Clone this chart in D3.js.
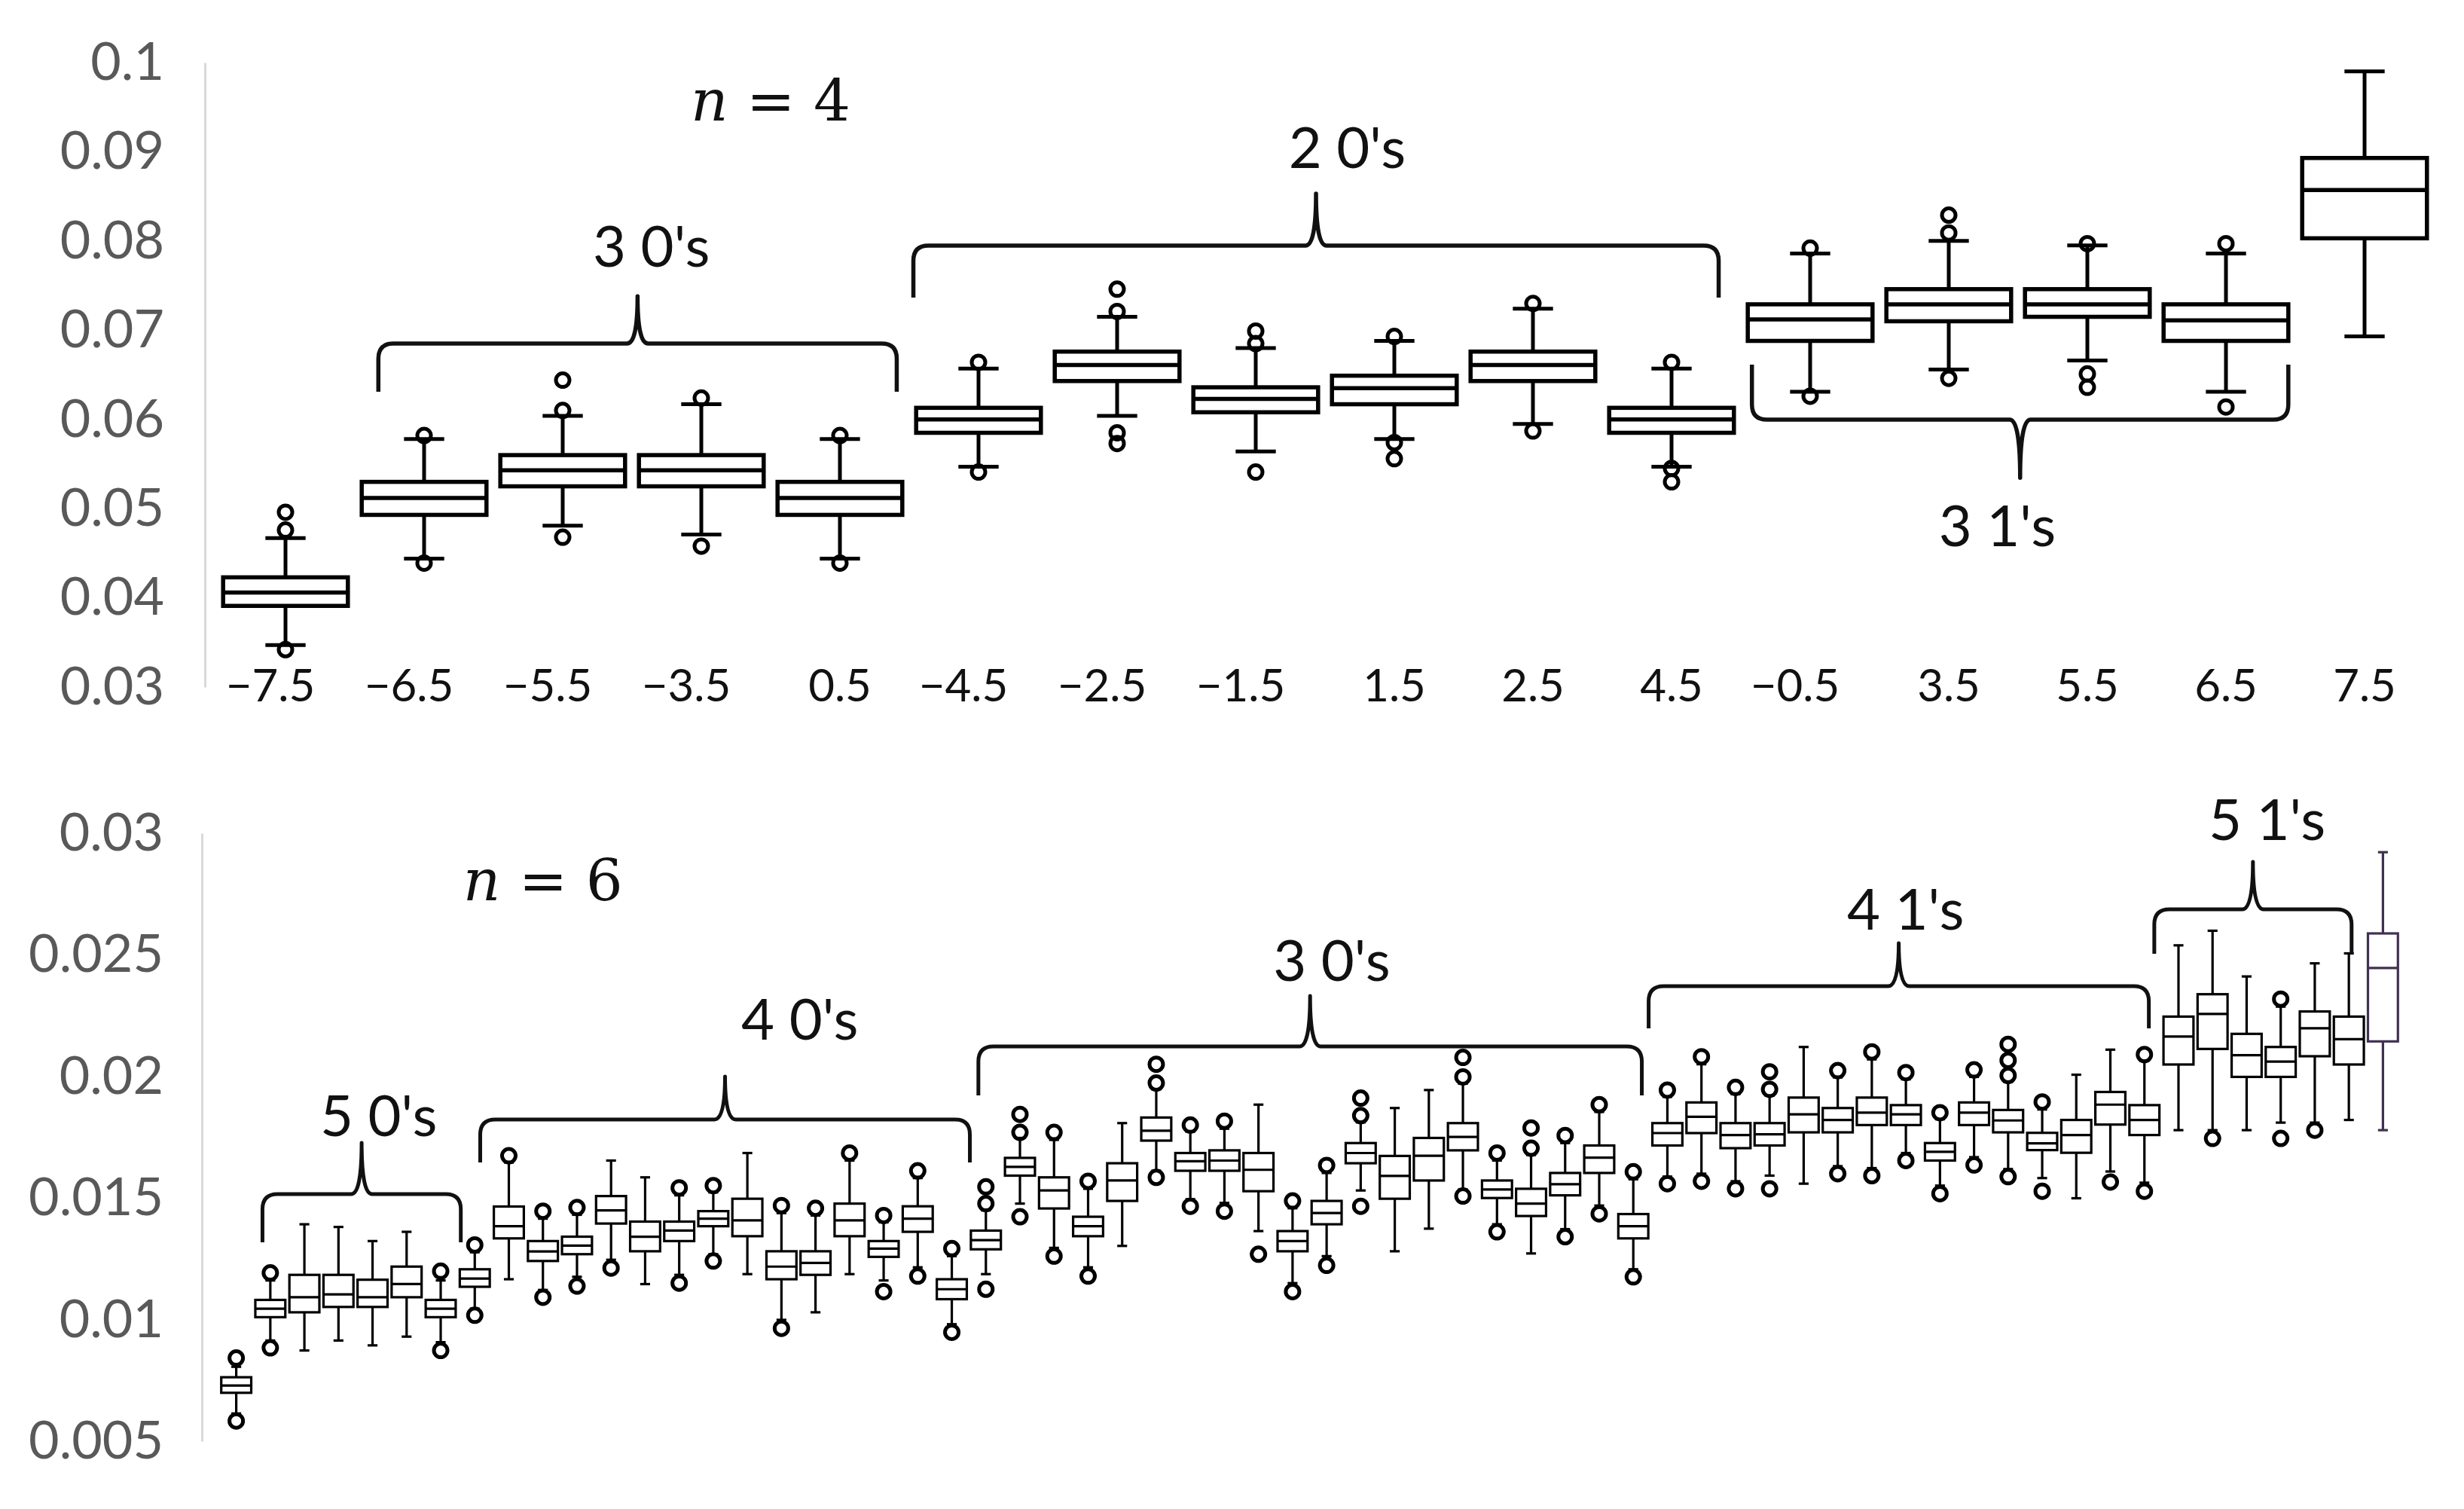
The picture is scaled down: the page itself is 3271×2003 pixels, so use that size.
<!DOCTYPE html>
<html>
<head>
<meta charset="utf-8">
<script src="https://cdn.jsdelivr.net/npm/d3@7"></script>
<style>
  body { margin: 0; background: #fff; }
  svg { display: block; }
</style>
</head>
<body>
<svg id="chart" width="3271" height="2003"></svg>
<script>
/* -------------------- n = 4 (16 boxes) -------------------- */
const n4Labels = ["−7.5", "−6.5", "−5.5", "−3.5", "0.5", "−4.5", "−2.5", "−1.5",
                  "1.5", "2.5", "4.5", "−0.5", "3.5", "5.5", "6.5", "7.5"]
const n4Low    = [0.0347, 0.0444, 0.0481, 0.0471, 0.0444, 0.0547, 0.0604, 0.0564,
                  0.0578, 0.0595, 0.0547, 0.0631, 0.0656, 0.0666, 0.0631, 0.0693]
const n4Q1     = [0.0391, 0.0493, 0.0525, 0.0525, 0.0493, 0.0585, 0.0643, 0.0608,
                  0.0617, 0.0643, 0.0585, 0.0688, 0.0710, 0.0715, 0.0688, 0.0803]
const n4Median = [0.0406, 0.0512, 0.0543, 0.0543, 0.0512, 0.0600, 0.0661, 0.0623,
                  0.0635, 0.0661, 0.0600, 0.0712, 0.0729, 0.0729, 0.0711, 0.0857]
const n4Q3     = [0.0423, 0.0530, 0.0560, 0.0560, 0.0530, 0.0613, 0.0676, 0.0636,
                  0.0649, 0.0676, 0.0613, 0.0729, 0.0746, 0.0746, 0.0729, 0.0893]
const n4High   = [0.0467, 0.0578, 0.0604, 0.0617, 0.0578, 0.0657, 0.0715, 0.0680,
                  0.0688, 0.0724, 0.0657, 0.0786, 0.0800, 0.0795, 0.0786, 0.0990]
const n4Outliers = [[0.0496, 0.0476, 0.0342], [0.0582, 0.0439], [0.0610, 0.0644, 0.0468], [0.0624, 0.0458],
                    [0.0582, 0.0439], [0.0664, 0.0541], [0.0721, 0.0746, 0.0585, 0.0573], [0.0685, 0.0699, 0.0541],
                    [0.0693, 0.0574, 0.0556], [0.0730, 0.0587], [0.0664, 0.0545, 0.0530], [0.0792, 0.0626],
                    [0.0809, 0.0829, 0.0646], [0.0797, 0.0651, 0.0636], [0.0797, 0.0614], []]
const n4Ticks = [0.03, 0.04, 0.05, 0.06, 0.07, 0.08, 0.09, 0.1]

/* -------------------- n = 6 (64 boxes) -------------------- */
const n6Low = [0.00614, 0.00914, 0.00873, 0.00914, 0.00894, 0.00930, 0.00907, 0.01045,
               0.01166, 0.01122, 0.01176, 0.01246, 0.01146, 0.01184, 0.01269, 0.01187,
               0.00999, 0.01030, 0.01187, 0.01161, 0.01215, 0.00981, 0.01187, 0.01477,
               0.01295, 0.01215, 0.01303, 0.01612, 0.01495, 0.01480, 0.01364, 0.01150,
               0.01261, 0.01531, 0.01281, 0.01374, 0.01535, 0.01392, 0.01272, 0.01372,
               0.01469, 0.01207, 0.01588, 0.01600, 0.01569, 0.01592, 0.01559, 0.01631,
               0.01623, 0.01685, 0.01551, 0.01668, 0.01619, 0.01582, 0.01499, 0.01609,
               0.01563, 0.01779, 0.01779, 0.01779, 0.01810, 0.01810, 0.01821, 0.01779]
const n6Q1 = [0.00699, 0.01010, 0.01030, 0.01052, 0.01052, 0.01092, 0.01010, 0.01135,
              0.01334, 0.01241, 0.01269, 0.01395, 0.01281, 0.01323, 0.01384, 0.01343,
              0.01166, 0.01184, 0.01343, 0.01258, 0.01361, 0.01084, 0.01289, 0.01592,
              0.01457, 0.01343, 0.01488, 0.01736, 0.01612, 0.01612, 0.01528, 0.01281,
              0.01392, 0.01643, 0.01497, 0.01572, 0.01696, 0.01500, 0.01426, 0.01511,
              0.01603, 0.01334, 0.01716, 0.01767, 0.01705, 0.01716, 0.01770, 0.01770,
              0.01800, 0.01800, 0.01654, 0.01800, 0.01770, 0.01697, 0.01686, 0.01802,
              0.01759, 0.02049, 0.02113, 0.01998, 0.01998, 0.02083, 0.02049, 0.02144]
const n6Median = [0.00729, 0.01045, 0.01092, 0.01104, 0.01092, 0.01146, 0.01045, 0.01169,
                  0.01384, 0.01280, 0.01304, 0.01449, 0.01341, 0.01366, 0.01415, 0.01408,
                  0.01218, 0.01233, 0.01408, 0.01292, 0.01415, 0.01125, 0.01327, 0.01628,
                  0.01531, 0.01384, 0.01572, 0.01777, 0.01651, 0.01654, 0.01616, 0.01323,
                  0.01438, 0.01685, 0.01591, 0.01674, 0.01751, 0.01535, 0.01477, 0.01557,
                  0.01666, 0.01384, 0.01767, 0.01834, 0.01759, 0.01762, 0.01844, 0.01821,
                  0.01851, 0.01844, 0.01690, 0.01851, 0.01819, 0.01725, 0.01759, 0.01884,
                  0.01821, 0.02164, 0.02257, 0.02087, 0.02061, 0.02198, 0.02153, 0.02446]
const n6Q3 = [0.00763, 0.01081, 0.01184, 0.01184, 0.01164, 0.01218, 0.01081, 0.01207,
              0.01465, 0.01323, 0.01341, 0.01508, 0.01403, 0.01403, 0.01446, 0.01497,
              0.01281, 0.01281, 0.01477, 0.01323, 0.01466, 0.01166, 0.01366, 0.01665,
              0.01585, 0.01423, 0.01643, 0.01831, 0.01685, 0.01696, 0.01685, 0.01364,
              0.01488, 0.01726, 0.01673, 0.01747, 0.01808, 0.01572, 0.01538, 0.01603,
              0.01716, 0.01434, 0.01808, 0.01893, 0.01808, 0.01808, 0.01913, 0.01870,
              0.01913, 0.01882, 0.01726, 0.01893, 0.01862, 0.01768, 0.01821, 0.01936,
              0.01882, 0.02246, 0.02338, 0.02175, 0.02121, 0.02267, 0.02246, 0.02588]
const n6High = [0.00806, 0.01161, 0.01392, 0.01381, 0.01323, 0.01361, 0.01161, 0.01277,
                0.01646, 0.01415, 0.01431, 0.01654, 0.01585, 0.01511, 0.01523, 0.01685,
                0.01438, 0.01428, 0.01654, 0.01400, 0.01582, 0.01261, 0.01449, 0.01747,
                0.01739, 0.01538, 0.01808, 0.01947, 0.01773, 0.01785, 0.01884, 0.01458,
                0.01603, 0.01811, 0.01870, 0.01944, 0.01970, 0.01654, 0.01677, 0.01726,
                0.01854, 0.01577, 0.01916, 0.02050, 0.01927, 0.01921, 0.02121, 0.01996,
                0.02070, 0.01988, 0.01824, 0.01998, 0.01978, 0.01864, 0.02007, 0.02110,
                0.02064, 0.02539, 0.02599, 0.02411, 0.02287, 0.02465, 0.02506, 0.02922]
const n6Outliers = [
  [0.00842, 0.00583], [0.01192, 0.00884], [], [], [], [], [0.01199, 0.00873], [0.01307, 0.01018],
  [0.01674], [0.01446, 0.01092], [0.01461, 0.01138], [0.01212], [], [0.01542, 0.01150], [0.01551, 0.01241], [],
  [0.01469, 0.00964], [0.01458], [0.01685], [0.01428, 0.01115], [0.01612, 0.01179], [0.01292, 0.00948], [0.01477, 0.01546, 0.01125], [0.01770, 0.01844, 0.01423],
  [0.01770, 0.01261], [0.01569, 0.01179], [], [0.01973, 0.02050, 0.01585], [0.01800, 0.01466], [0.01816, 0.01446], [0.01269], [0.01488, 0.01115],
  [0.01634, 0.01223], [0.01839, 0.01911, 0.01466], [], [], [0.01998, 0.02078, 0.01508], [0.01685, 0.01361], [0.01705, 0.01788], [0.01757, 0.01341],
  [0.01884, 0.01435], [0.01608, 0.01176], [0.01944, 0.01559], [0.02081, 0.01569], [0.01955, 0.01538], [0.01947, 0.02019, 0.01538], [], [0.02024, 0.01600],
  [0.02101, 0.01592], [0.02016, 0.01654], [0.01851, 0.01518], [0.02027, 0.01636], [0.02004, 0.02066, 0.02132, 0.01588], [0.01895, 0.01528], [], [0.01566],
  [0.02090, 0.01528], [], [0.01745], [], [0.02318, 0.01745], [0.01779], [], []
]
const n6Ticks = [0.005, 0.01, 0.015, 0.02, 0.025, 0.03]

/* braces: from/to/textAt in box-slot units, the rest in data units */
const n4Braces = [
  { label: "3 0's", from: 1.17, to: 4.91, level: 0.0685, end: 0.0631, tip: 0.0738, textAt: 3.14, textY: 0.0771 },
  { label: "2 0's", from: 5.03, to: 10.84, level: 0.07948, end: 0.07365, tip: 0.0853, textAt: 8.16, textY: 0.08818 },
  { label: "3 1's", from: 11.08, to: 14.95, level: 0.05997, end: 0.06613, tip: 0.05346, textAt: 12.85, textY: 0.04578 }
]
const n6Braces = [
  { label: "5 0's", from: 1.27, to: 7.09, level: 0.01516, end: 0.01318, tip: 0.01727, textAt: 4.68, textY: 0.01755 },
  { label: "4 0's", from: 7.66, to: 22.03, level: 0.01823, end: 0.01646, tip: 0.01999, textAt: 17.04, textY: 0.02151 },
  { label: "3 0's", from: 22.28, to: 41.75, level: 0.02123, end: 0.01922, tip: 0.02331, textAt: 32.65, textY: 0.02393 },
  { label: "4 1's", from: 41.95, to: 56.63, level: 0.02371, end: 0.02198, tip: 0.02548, textAt: 49.49, textY: 0.02604 },
  { label: "5 1's", from: 56.79, to: 62.58, level: 0.02687, end: 0.02504, tip: 0.02882, textAt: 60.1, textY: 0.02972 }
]

const svg = d3.select("#chart")
svg.append("rect").attr("width", 3271).attr("height", 2003).attr("fill", "#fff")

function boxStats(low, q1, med, q3, high, outliers) {
    return low.map(function (d, i) {
        return { i: i, low: d, q1: q1[i], med: med[i], q3: q3[i], high: high[i], out: outliers[i] }
    })
}

function drawYAxis(g, y, ticks, x0, pad) {
    let axis = d3.axisLeft(y)
        .tickValues(ticks)
        .tickSize(0)
        .tickPadding(pad)
        .tickFormat(function (d) { return String(+d.toFixed(3)) })

    let a = g.append("g")
        .attr("transform", "translate(" + x0 + ",0)")
        .call(axis)
    a.select(".domain").attr("stroke", "#d9d9d9").attr("stroke-width", 3)
    a.selectAll("text")
        .attr("font-family", "Lato, sans-serif")
        .attr("font-size", 70)
        .attr("fill", "#595959")
}

function drawBoxes(g, x, y, data, st) {
    let half = x.bandwidth() * st.boxRatio / 2
    let cap = x.bandwidth() * st.capRatio / 2

    let box = g.selectAll(".box")
        .data(data)
        .enter().append("g")
        .attr("class", "box")
        .attr("transform", function (d) { return "translate(" + (x(d.i) + x.bandwidth() / 2) + ",0)" })
        .attr("stroke", function (d) { return st.color(d) })
        .attr("fill", "none")

    box.append("line")
        .attr("y1", function (d) { return y(d.high) })
        .attr("y2", function (d) { return y(d.q3) })
        .attr("stroke-width", st.whisker)
    box.append("line")
        .attr("y1", function (d) { return y(d.q1) })
        .attr("y2", function (d) { return y(d.low) })
        .attr("stroke-width", st.whisker)
    box.append("line")
        .attr("x1", -cap).attr("x2", cap)
        .attr("y1", function (d) { return y(d.high) })
        .attr("y2", function (d) { return y(d.high) })
        .attr("stroke-width", st.whisker)
    box.append("line")
        .attr("x1", -cap).attr("x2", cap)
        .attr("y1", function (d) { return y(d.low) })
        .attr("y2", function (d) { return y(d.low) })
        .attr("stroke-width", st.whisker)

    box.append("rect")
        .attr("x", -half)
        .attr("width", half * 2)
        .attr("y", function (d) { return y(d.q3) })
        .attr("height", function (d) { return y(d.q1) - y(d.q3) })
        .attr("fill", "#fff")
        .attr("stroke-width", st.stroke)
    box.append("line")
        .attr("x1", -half).attr("x2", half)
        .attr("y1", function (d) { return y(d.med) })
        .attr("y2", function (d) { return y(d.med) })
        .attr("stroke-width", st.stroke)

    box.selectAll("circle")
        .data(function (d) { return d.out })
        .enter().append("circle")
        .attr("cy", function (v) { return y(v) })
        .attr("r", st.r)
        .attr("stroke-width", st.ring)
}

function drawBraces(g, x, y, braces, sw) {
    let slot = function (t) { return x.range()[0] + t * x.step() }

    braces.forEach(function (b) {
        let x0 = slot(b.from), x1 = slot(b.to), xm = (x0 + x1) / 2
        let yH = y(b.level), yE = y(b.end), yT = y(b.tip)
        let dir = yE > yH ? 1 : -1
        let r = 20, s = 14
        let p = d3.path()
        p.moveTo(x0, yE)
        p.lineTo(x0, yH + dir * r)
        p.quadraticCurveTo(x0, yH, x0 + r, yH)
        p.lineTo(xm - s, yH)
        p.quadraticCurveTo(xm, yH, xm, yT)
        p.quadraticCurveTo(xm, yH, xm + s, yH)
        p.lineTo(x1 - r, yH)
        p.quadraticCurveTo(x1, yH, x1, yH + dir * r)
        p.lineTo(x1, yE)

        g.append("path")
            .attr("d", p.toString())
            .attr("fill", "none")
            .attr("stroke", "#111")
            .attr("stroke-width", sw)
            .attr("stroke-linejoin", "round")

        g.append("text")
            .attr("x", slot(b.textAt))
            .attr("y", y(b.textY))
            .attr("text-anchor", "middle")
            .attr("font-family", "Lato, sans-serif")
            .attr("font-size", 76)
            .attr("fill", "#111")
            .text(b.label)
    })
}

function drawNLabel(g, xc, yb, digit) {
    let t = g.append("text")
        .attr("x", xc)
        .attr("y", yb)
        .attr("text-anchor", "middle")
        .attr("font-family", "'DejaVu Serif', serif")
        .attr("font-size", 77)
        .attr("fill", "#111")
    t.append("tspan").attr("font-style", "italic").text("n")
    t.append("tspan").text(" = " + digit)
}

/* -------------- TOP PANEL -------------- */

let topPanel = svg.append("g")
let xTop = d3.scaleBand().domain(d3.range(n4Labels.length)).range([287, 3231])
let yTop = d3.scaleLinear().domain([0.03, 0.1]).range([912, 83])

drawYAxis(topPanel, yTop, n4Ticks, 272, 54)

let xAxisTop = topPanel.append("g")
    .attr("transform", "translate(0,888)")
    .call(d3.axisBottom(xTop).tickSize(0).tickPadding(0).tickFormat(function (i) { return n4Labels[i] }))
xAxisTop.select(".domain").remove()
xAxisTop.selectAll("text")
    .attr("font-family", "Lato, sans-serif")
    .attr("font-size", 60)
    .attr("fill", "#111")
    .attr("dx", function (i) { return n4Labels[i].charAt(0) === "−" ? -20 : 0 })

drawBoxes(topPanel, xTop, yTop, boxStats(n4Low, n4Q1, n4Median, n4Q3, n4High, n4Outliers), {
    boxRatio: 0.9, capRatio: 0.29, stroke: 5.5, whisker: 5, r: 9, ring: 5,
    color: function () { return "#000" }
})
drawBraces(topPanel, xTop, yTop, n4Braces, 5.5)
drawNLabel(topPanel, xTop(4), yTop(0.0935), "4")

/* -------------- BOTTOM PANEL -------------- */

let bottomPanel = svg.append("g")
let xBot = d3.scaleBand().domain(d3.range(n6Low.length)).range([291, 3186])
let yBot = d3.scaleLinear().domain([0.005, 0.03]).range([1913, 1106])

drawYAxis(bottomPanel, yBot, n6Ticks, 268, 51)

drawBoxes(bottomPanel, xBot, yBot, boxStats(n6Low, n6Q1, n6Median, n6Q3, n6High, n6Outliers), {
    boxRatio: 0.88, capRatio: 0.29, stroke: 3.2, whisker: 3.2, r: 9, ring: 5,
    color: function (d) { return d.i === n6Low.length - 1 ? "#403152" : "#000" }
})
drawBraces(bottomPanel, xBot, yBot, n6Braces, 5)
drawNLabel(bottomPanel, xBot(9) + xBot.bandwidth() / 2, yBot(0.02724), "6")
</script>
</body>
</html>
